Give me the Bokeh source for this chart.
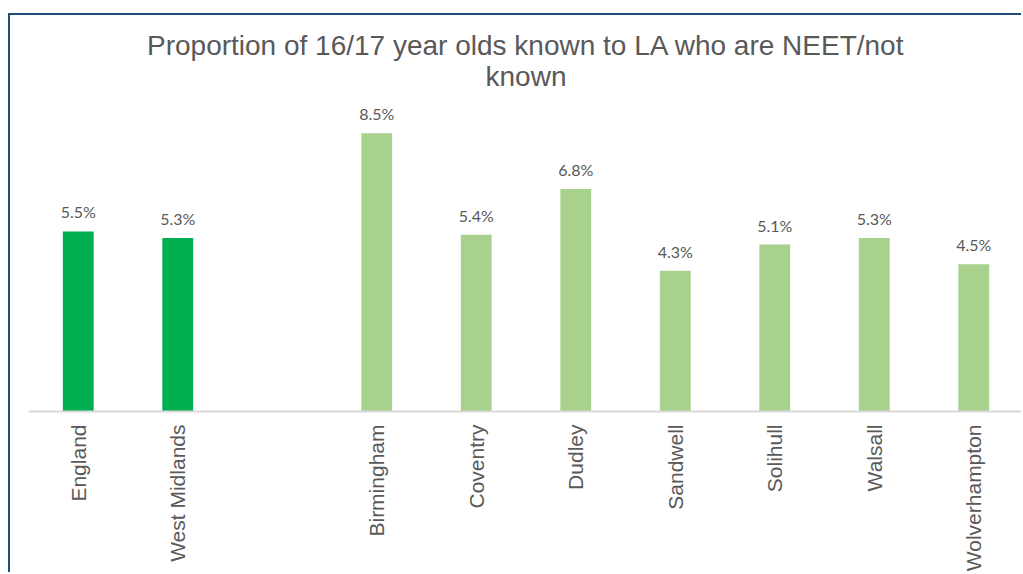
import math
from bokeh.plotting import figure
from bokeh.models import ColumnDataSource, FactorRange, Range1d, Title
from bokeh.core.properties import value
from bokeh.embed import file_html
from bokeh.resources import INLINE

# ---- data ----
categories = ["England", "West Midlands", " ", "Birmingham", "Coventry", "Dudley",
              "Sandwell", "Solihull", "Walsall", "Wolverhampton"]
values = [5.5, 5.3, None, 8.5, 5.4, 6.8, 4.3, 5.1, 5.3, 4.5]
labels = ["5.5%", "5.3%", "", "8.5%", "5.4%", "6.8%", "4.3%", "5.1%", "5.3%", "4.5%"]
colors = ["#00B050", "#00B050", "#FFFFFF", "#A9D18E", "#A9D18E", "#A9D18E",
          "#A9D18E", "#A9D18E", "#A9D18E", "#A9D18E"]
title_line1 = "Proportion of 16/17 year olds known to LA who are NEET/not"
title_line2 = "known"

keep = [i for i, v in enumerate(values) if v is not None]
src = ColumnDataSource(dict(
    cat=[categories[i] for i in keep],
    val=[values[i] for i in keep],
    lab=[labels[i] for i in keep],
    col=[colors[i] for i in keep],
))

p = figure(width=1013, height=559, output_backend="svg", toolbar_location=None,
           x_range=FactorRange(*categories, range_padding=0),
           y_range=Range1d(0, 9.5),
           min_border_left=18, min_border_right=0, min_border_bottom=163,
           min_border_top=85, title=None)
p.styles = {"margin-left": "8px", "margin-top": "13px",
            "border-left": "2px solid #1F4E79", "border-top": "2px solid #1F4E79"}

p.vbar(x="cat", top="val", width=0.31, fill_color="col", line_color=None, source=src)
p.text(x="cat", y="val", text="lab", source=src, text_align="center",
       text_baseline="bottom", y_offset=-10, text_font=value("Lato"),
       text_font_size="16px", text_color="#595959")

p.add_layout(Title(text=title_line2, align="center", text_font="Liberation Sans",
                   text_font_size="28px", text_font_style="normal",
                   text_color="#595959", standoff=17), "above")
p.add_layout(Title(text=title_line1, align="center", text_font="Liberation Sans",
                   text_font_size="28px", text_font_style="normal",
                   text_color="#595959", standoff=-20), "above")

p.yaxis.visible = False
p.xgrid.grid_line_color = None
p.ygrid.grid_line_color = None
p.outline_line_color = None
p.xaxis.axis_line_color = "#D9D9D9"
p.xaxis.axis_line_width = 2
p.xaxis.major_tick_line_color = None
p.xaxis.minor_tick_line_color = None
p.xaxis.major_tick_out = 0
p.xaxis.major_tick_in = 0
p.xaxis.major_label_orientation = math.pi / 2
p.xaxis.major_label_standoff = 13
p.xaxis.major_label_text_font = "Liberation Sans"
p.xaxis.major_label_text_font_size = "21px"
p.xaxis.major_label_text_color = "#595959"

open("out.html", "w").write(file_html(p, INLINE))
